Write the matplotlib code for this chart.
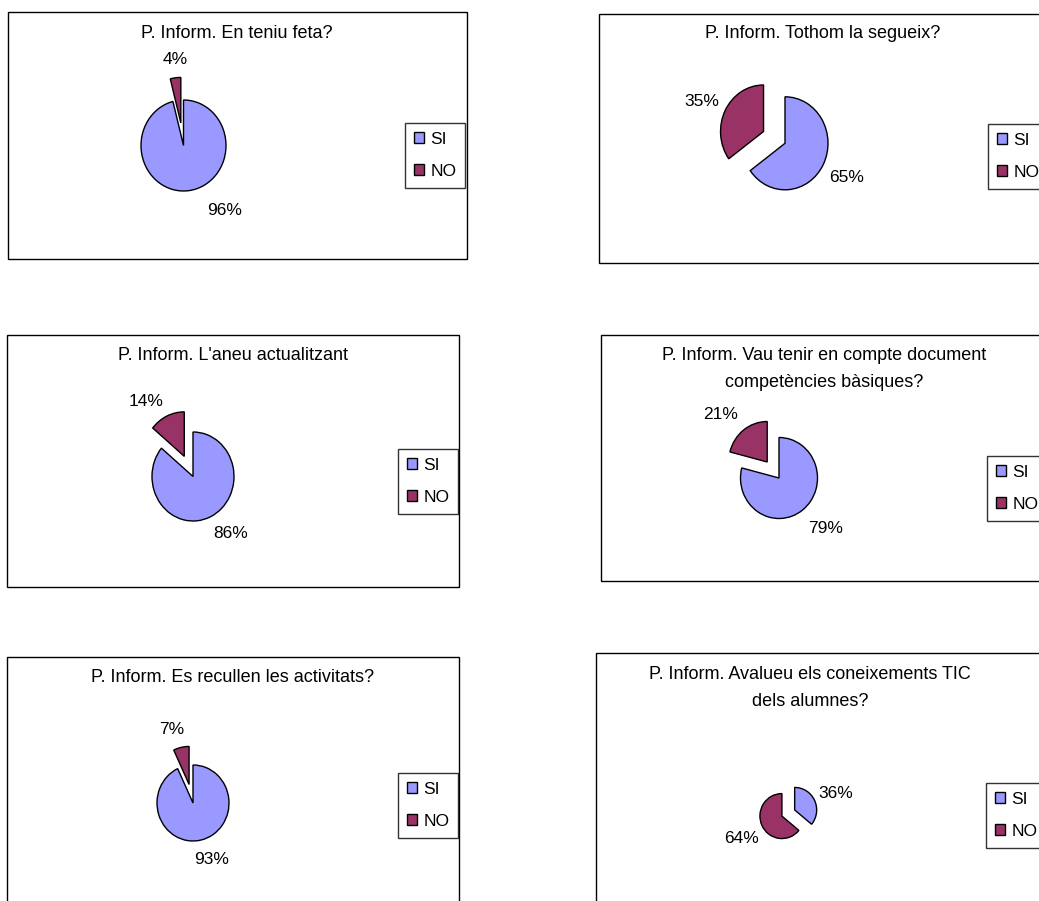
import matplotlib
matplotlib.use("Agg")
import matplotlib.pyplot as plt
from matplotlib.patches import Rectangle

plt.rcParams['font.family'] = ['Liberation Sans', 'DejaVu Sans']

# ---------------- data ----------------
categories = ["SI", "NO"]
titles = [
    "P. Inform. En teniu feta?",
    "P. Inform. Tothom la segueix?",
    "P. Inform. L'aneu actualitzant",
    "P. Inform. Vau tenir en compte document\ncompetències bàsiques?",
    "P. Inform. Es recullen les activitats?",
    "P. Inform. Avalueu els coneixements TIC\ndels alumnes?",
]
si_values = [96, 65, 86, 79, 93, 36]
no_values = [4, 35, 14, 21, 7, 64]

# ---------------- style / layout ----------------
COLORS = ["#9999FF", "#993366"]
W, H = 1039, 901
FS = 12.5
FS_TITLE = 13

# panel boxes (left, top, right, bottom) in pixels
boxes = [(8, 12, 467, 259), (599, 14, 1047, 263), (7, 335, 459, 587),
         (601, 335, 1047, 581), (7, 657, 459, 915), (596, 653, 1047, 915)]
title_pos = [(237, 33), (823, 33), (233, 355), (824, 369), (233, 677), (810, 688)]
pie_center = [(183.5, 145.5), (785, 143.3), (193, 476.5), (779, 478), (193, 803), (788.3, 813)]
pie_radius = [(42.5, 45.5), (43, 46.5), (41, 44.5), (38.5, 40.5), (36, 38), (22, 22.5)]
explodes = [(0, 0.5), (0, 0.56), (0, 0.5), (0, 0.5), (0, 0.5), (0.32, 0.32)]
pct_dist = [1.45, 1.6, 1.58, 1.7, 1.55, 2.03]
legend_pos = [(405, 123), (988, 124), (398, 449), (987, 456), (398, 773), (986, 783)]
# pixel nudges (dx right, dy down) for individual percentage labels
label_nudge = {(0, 0): (33, 0), (0, 1): (2, 2), (1, 1): (0, 4),
               (2, 0): (10, -7), (2, 1): (-11, 9),
               (3, 0): (6, -4), (3, 1): (-7, 7),
               (4, 0): (6, -1), (4, 1): (-5, 3),
               (5, 0): (1, 3), (5, 1): (0, 3)}

fig = plt.figure(figsize=(W / 100, H / 100), dpi=100)


def fx(x):
    return x / W


def fy(y):
    return 1 - y / H


S = 100  # half-size of pie axes in px
for i in range(6):
    l, t, r, b = boxes[i]
    fig.add_artist(Rectangle((fx(l), fy(b)), (r - l) / W, (b - t) / H,
                             transform=fig.transFigure, fill=False,
                             edgecolor="black", linewidth=1.0))
    tx, ty = title_pos[i]
    fig.text(fx(tx), fy(ty), titles[i], ha="center", va="center",
             fontsize=FS_TITLE, linespacing=1.75)

    cx, cy = pie_center[i]
    rx, ry = pie_radius[i]
    ax = fig.add_axes([fx(cx - S), fy(cy + S), 2 * S / W, 2 * S / H])
    wedges, texts, autotexts = ax.pie(
        [si_values[i], no_values[i]], colors=COLORS, startangle=90,
        counterclock=False, explode=explodes[i], autopct="%1.0f%%",
        pctdistance=pct_dist[i],
        wedgeprops=dict(edgecolor="black", linewidth=1.0),
        textprops=dict(fontsize=FS))
    ax.set_aspect("auto")
    ax.set_xlim(-S / rx, S / rx)
    ax.set_ylim(-S / ry, S / ry)
    ax.axis("off")
    for j, at in enumerate(autotexts):
        if (i, j) in label_nudge:
            dx, dy = label_nudge[(i, j)]
            x0, y0 = at.get_position()
            at.set_position((x0 + dx / rx, y0 - dy / ry))

    lx, ly = legend_pos[i]
    leg = fig.legend(wedges, categories, loc="upper left",
                     bbox_to_anchor=(fx(lx), fy(ly)), fontsize=FS,
                     frameon=True, fancybox=False, shadow=False,
                     handlelength=0.6, handleheight=0.6, handletextpad=0.35,
                     borderpad=0.5, labelspacing=1.0, borderaxespad=0)
    leg.get_frame().set_edgecolor("black")
    leg.get_frame().set_linewidth(1.0)

fig.savefig("out.png", dpi=100, facecolor="white")
